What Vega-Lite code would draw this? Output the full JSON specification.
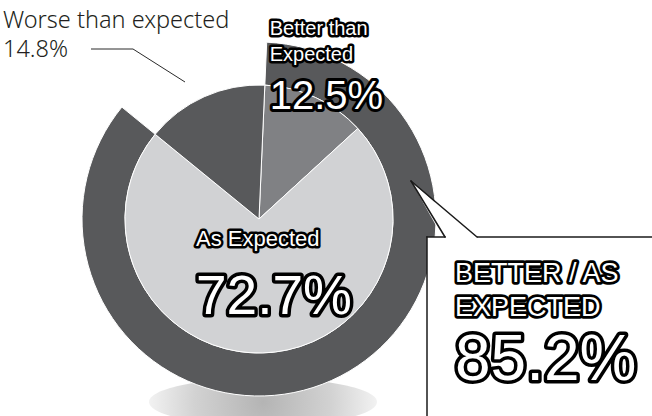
{
  "$schema": "https://vega.github.io/schema/vega-lite/v6.json",
  "width": 652,
  "height": 416,
  "autosize": {"type": "none"},
  "padding": 0,
  "background": "#ffffff",
  "config": {"view": {"stroke": null}},
  "datasets": {
    "slices": [
      {"cat": "Better than Expected", "share": 0.125, "label": "Better than\nExpected"},
      {"cat": "As Expected", "share": 0.727, "label": "As Expected"},
      {"cat": "Worse than expected", "share": 0.148, "label": "Worse than expected"}
    ],
    "ring": [
      {"cat": "Better / As Expected", "share": 0.852, "label": "BETTER / AS\nEXPECTED"},
      {"cat": "Worse than expected", "share": 0.148, "label": ""}
    ]
  },
  "layer": [
    {
      "data": {"values": [{"element": "shadow"}]},
      "mark": {
        "type": "point",
        "shape": "M -1 0 A 1 0.21 0 1 1 1 0 A 1 0.21 0 1 1 -1 0 Z",
        "filled": true,
        "opacity": 1,
        "strokeWidth": 0,
        "size": 51984,
        "x": 263,
        "y": 402,
        "fill": {"gradient": "radial", "stops": [{"offset": 0, "color": "#b4b4b4"}, {"offset": 0.6, "color": "#d2d2d2"}, {"offset": 1, "color": "#f2f2f2"}]}
      },
      "encoding": {}
    },
    {
      "data": {"name": "ring"},
      "mark": {"type": "arc", "x": 259, "y": 219, "radius": 177, "radius2": 134, "fill": "#58595b", "stroke": "#ffffff", "strokeWidth": 1},
      "encoding": {
        "theta": {"field": "share", "type": "quantitative", "stack": true, "scale": {"domain": [0, 1], "range": [-0.8863, 5.3969]}},
        "order": {"field": "cat", "sort": "descending"},
        "detail": {"field": "cat", "type": "nominal"},
        "opacity": {"condition": {"test": "datum.cat === 'Worse than expected'", "value": 0}, "value": 1}
      }
    },
    {
      "data": {"name": "slices"},
      "mark": {"type": "arc", "x": 259, "y": 219, "radius": 134, "stroke": "#ffffff", "strokeWidth": 1},
      "encoding": {
        "theta": {"field": "share", "type": "quantitative", "stack": true, "scale": {"domain": [0, 1], "range": [-0.8863, 5.3969]}},
        "order": {"field": "cat", "sort": "descending"},
        "color": {"field": "cat", "type": "nominal", "legend": null, "scale": {"domain": ["Better than Expected", "As Expected", "Worse than expected"], "range": ["#808184", "#d1d2d4", "#58595b"]}}
      }
    },
    {
      "data": {"name": "ring"},
      "transform": [{"filter": "datum.cat === 'Better / As Expected'"}],
      "layer": [
        {"mark": {"type": "rect", "x": 427, "x2": 660, "y": 237, "y2": 430, "fill": "#ffffff"}, "encoding": {}},
        {"mark": {"type": "arc", "x": 411, "y": 181, "theta": 2.2986, "theta2": 2.6302, "radius": 90, "radius2": 0, "fill": "#ffffff"}, "encoding": {}},
        {"mark": {"type": "rule", "stroke": "#1a1a1a", "strokeWidth": 1.5, "strokeCap": "square"}, "encoding": {"x": {"value": 427}, "y": {"value": 237}, "x2": {"value": 427}, "y2": {"value": 420}}},
        {"mark": {"type": "rule", "stroke": "#1a1a1a", "strokeWidth": 1.5, "strokeCap": "square"}, "encoding": {"x": {"value": 427}, "y": {"value": 237}, "x2": {"value": 445}, "y2": {"value": 237}}},
        {"mark": {"type": "rule", "stroke": "#1a1a1a", "strokeWidth": 1.5}, "encoding": {"x": {"value": 477}, "y": {"value": 237}, "x2": {"value": 660}, "y2": {"value": 237}}},
        {"mark": {"type": "rule", "stroke": "#1a1a1a", "strokeWidth": 1.5, "strokeCap": "round"}, "encoding": {"x": {"value": 411}, "y": {"value": 181}, "x2": {"value": 445}, "y2": {"value": 237}}},
        {"mark": {"type": "rule", "stroke": "#1a1a1a", "strokeWidth": 1.5, "strokeCap": "round"}, "encoding": {"x": {"value": 411}, "y": {"value": 181}, "x2": {"value": 477}, "y2": {"value": 237}}}
      ]
    },
    {
      "data": {"name": "slices"},
      "transform": [{"filter": "datum.cat === 'Worse than expected'"}],
      "layer": [
        {"mark": {"type": "rule", "stroke": "#2a2a2a", "strokeWidth": 1}, "encoding": {"x": {"value": 91}, "y": {"value": 49}, "x2": {"value": 133}, "y2": {"value": 49}}},
        {"mark": {"type": "rule", "stroke": "#2a2a2a", "strokeWidth": 1}, "encoding": {"x": {"value": 133}, "y": {"value": 49}, "x2": {"value": 185}, "y2": {"value": 82}}}
      ]
    },
    {
      "data": {"name": "slices"},
      "encoding": {
        "theta": {"field": "share", "type": "quantitative", "stack": true, "scale": {"domain": [0, 1], "range": [-0.8863, 5.3969]}},
        "order": {"field": "cat", "sort": "descending"},
        "detail": {"field": "cat", "type": "nominal"}
      },
      "layer": [
        {
          "mark": {"type": "text", "x": 259, "y": 219, "radius": 175, "dx": -184.4, "dy": -31.8, "align": "left", "baseline": "alphabetic", "font": "Noto Sans", "fontSize": 23.5, "fontWeight": 300, "fill": "#231f20"},
          "encoding": {"text": {"condition": {"test": "datum.cat === 'Worse than expected'", "field": "label", "type": "nominal"}, "value": ""}}
        },
        {
          "mark": {"type": "text", "x": 259, "y": 219, "radius": 175, "dx": -184.4, "dy": -2.8, "align": "left", "baseline": "alphabetic", "font": "Noto Sans", "fontSize": 23.5, "fontWeight": 300, "fill": "#231f20"},
          "encoding": {"text": {"condition": {"test": "datum.cat === 'Worse than expected'", "field": "share", "type": "quantitative", "format": ".1%"}, "value": ""}}
        },
        {
          "mark": {"type": "text", "x": 259, "y": 219, "radius": 165, "dx": -59, "dy": -34.5, "align": "left", "baseline": "alphabetic", "font": "Liberation Sans", "fontSize": 20, "lineBreak": "\n", "lineHeight": 26, "fill": "#000000", "stroke": "#000000", "strokeWidth": 5, "strokeJoin": "round"},
          "encoding": {"text": {"condition": {"test": "datum.cat === 'Better than Expected'", "field": "label", "type": "nominal"}, "value": ""}}
        },
        {
          "mark": {"type": "text", "x": 259, "y": 219, "radius": 165, "dx": -59, "dy": -34.5, "align": "left", "baseline": "alphabetic", "font": "Liberation Sans", "fontSize": 20, "lineBreak": "\n", "lineHeight": 26, "fill": "#ffffff"},
          "encoding": {"text": {"condition": {"test": "datum.cat === 'Better than Expected'", "field": "label", "type": "nominal"}, "value": ""}}
        },
        {
          "mark": {"type": "text", "x": 259, "y": 219, "radius": 165, "dx": -59, "dy": 39.5, "align": "left", "baseline": "alphabetic", "font": "Liberation Sans", "fontSize": 40, "fill": "#000000", "stroke": "#000000", "strokeWidth": 6, "strokeJoin": "round"},
          "encoding": {"text": {"condition": {"test": "datum.cat === 'Better than Expected'", "field": "share", "type": "quantitative", "format": ".1%"}, "value": ""}}
        },
        {
          "mark": {"type": "text", "x": 259, "y": 219, "radius": 165, "dx": -59, "dy": 39.5, "align": "left", "baseline": "alphabetic", "font": "Liberation Sans", "fontSize": 40, "fill": "#ffffff"},
          "encoding": {"text": {"condition": {"test": "datum.cat === 'Better than Expected'", "field": "share", "type": "quantitative", "format": ".1%"}, "value": ""}}
        },
        {
          "mark": {"type": "text", "x": 259, "y": 219, "radius": 60, "dx": -64.7, "dy": -32.5, "align": "left", "baseline": "alphabetic", "font": "Liberation Sans", "fontSize": 22, "fill": "#000000", "stroke": "#000000", "strokeWidth": 5, "strokeJoin": "round"},
          "encoding": {"text": {"condition": {"test": "datum.cat === 'As Expected'", "field": "label", "type": "nominal"}, "value": ""}}
        },
        {
          "mark": {"type": "text", "x": 259, "y": 219, "radius": 60, "dx": -64.7, "dy": -32.5, "align": "left", "baseline": "alphabetic", "font": "Liberation Sans", "fontSize": 22, "fill": "#ffffff"},
          "encoding": {"text": {"condition": {"test": "datum.cat === 'As Expected'", "field": "label", "type": "nominal"}, "value": ""}}
        },
        {
          "mark": {"type": "text", "x": 259, "y": 219, "radius": 60, "dx": -64.7, "dy": 35, "align": "left", "baseline": "alphabetic", "font": "Liberation Sans", "fontSize": 55, "fill": "#000000", "stroke": "#000000", "strokeWidth": 7, "strokeJoin": "round"},
          "encoding": {"text": {"condition": {"test": "datum.cat === 'As Expected'", "field": "share", "type": "quantitative", "format": ".1%"}, "value": ""}}
        },
        {
          "mark": {"type": "text", "x": 259, "y": 219, "radius": 60, "dx": -64.7, "dy": 35, "align": "left", "baseline": "alphabetic", "font": "Liberation Sans", "fontSize": 55, "fill": "#ffffff"},
          "encoding": {"text": {"condition": {"test": "datum.cat === 'As Expected'", "field": "share", "type": "quantitative", "format": ".1%"}, "value": ""}}
        }
      ]
    },
    {
      "data": {"name": "ring"},
      "encoding": {
        "theta": {"field": "share", "type": "quantitative", "stack": true, "scale": {"domain": [0, 1], "range": [-0.8863, 5.3969]}},
        "order": {"field": "cat", "sort": "descending"},
        "detail": {"field": "cat", "type": "nominal"}
      },
      "layer": [
        {
          "mark": {"type": "text", "x": 259, "y": 219, "radius": 155, "dx": 132.6, "dy": -78.4, "align": "left", "baseline": "alphabetic", "font": "Liberation Sans", "fontSize": 27, "lineBreak": "\n", "lineHeight": 34, "fill": "#000000", "stroke": "#000000", "strokeWidth": 5.5, "strokeJoin": "round"},
          "encoding": {"text": {"condition": {"test": "datum.cat === 'Better / As Expected'", "field": "label", "type": "nominal"}, "value": ""}}
        },
        {
          "mark": {"type": "text", "x": 259, "y": 219, "radius": 155, "dx": 132.6, "dy": -78.4, "align": "left", "baseline": "alphabetic", "font": "Liberation Sans", "fontSize": 27, "lineBreak": "\n", "lineHeight": 34, "fill": "#ffffff"},
          "encoding": {"text": {"condition": {"test": "datum.cat === 'Better / As Expected'", "field": "label", "type": "nominal"}, "value": ""}}
        },
        {
          "mark": {"type": "text", "x": 259, "y": 219, "radius": 155, "dx": 132.6, "dy": 19.6, "align": "left", "baseline": "alphabetic", "font": "Liberation Sans", "fontSize": 64, "fill": "#000000", "stroke": "#000000", "strokeWidth": 7, "strokeJoin": "round"},
          "encoding": {"text": {"condition": {"test": "datum.cat === 'Better / As Expected'", "field": "share", "type": "quantitative", "format": ".1%"}, "value": ""}}
        },
        {
          "mark": {"type": "text", "x": 259, "y": 219, "radius": 155, "dx": 132.6, "dy": 19.6, "align": "left", "baseline": "alphabetic", "font": "Liberation Sans", "fontSize": 64, "fill": "#ffffff"},
          "encoding": {"text": {"condition": {"test": "datum.cat === 'Better / As Expected'", "field": "share", "type": "quantitative", "format": ".1%"}, "value": ""}}
        }
      ]
    }
  ]
}
